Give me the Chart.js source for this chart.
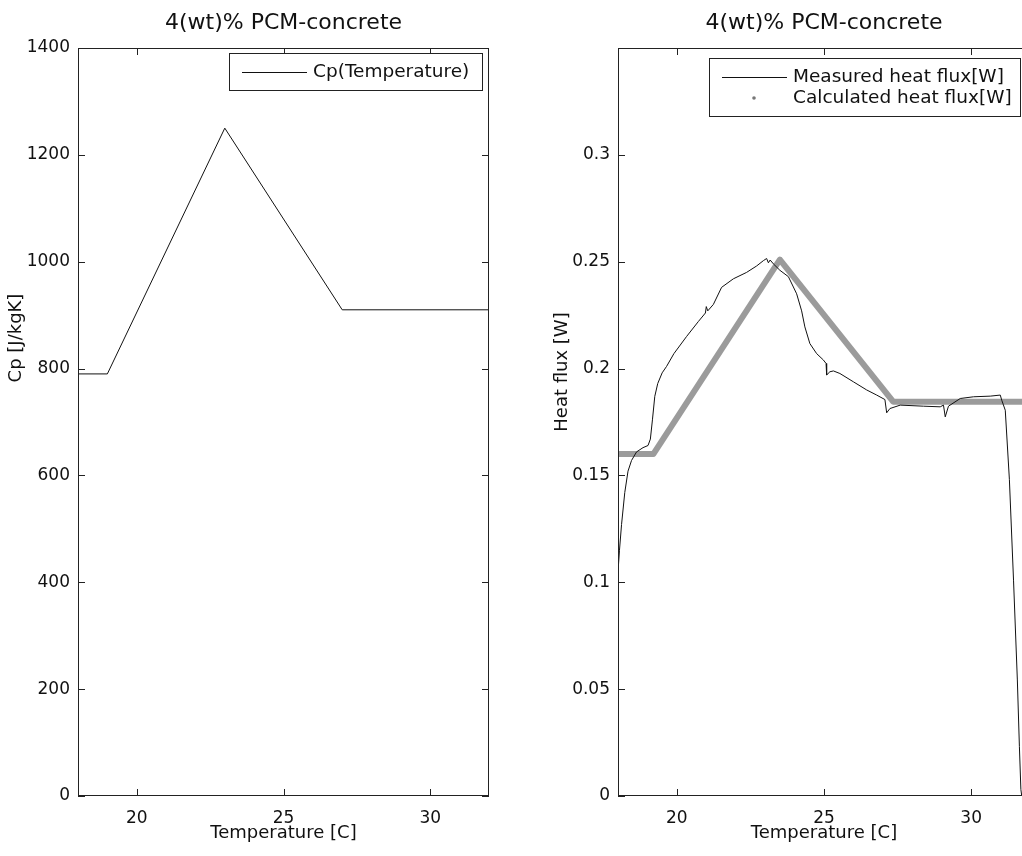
<!DOCTYPE html>
<html>
<head>
<meta charset="utf-8">
<title>4(wt)% PCM-concrete</title>
<script src="https://cdn.jsdelivr.net/npm/chart.js@4.4.1/dist/chart.umd.min.js"></script>
<style>
  html, body { margin: 0; padding: 0; background: #fff; overflow: hidden; width: 1022px; height: 856px; }
  .panel { position: absolute; top: 0; height: 856px; }
  #left { left: 0; width: 500px; }
  #right { left: 520px; width: 520px; }
  canvas { display: block; }
</style>
</head>
<body>
<div class="panel" id="left"><canvas id="cpChart" width="500" height="856"></canvas></div>
<div class="panel" id="right"><canvas id="fluxChart" width="520" height="856"></canvas></div>
<script>
// tick labels
const tempTicks = [20, 25, 30];
const cpTicks = [0, 200, 400, 600, 800, 1000, 1200, 1400];
const fluxTicks = [0, 0.05, 0.1, 0.15, 0.2, 0.25, 0.3];

// left panel: Cp(T)
const cpTemp = [18, 19, 23, 27, 32];
const cpValue = [790, 790, 1250, 910, 910];

// right panel: measured heat flux
const measTemp = [
  18.0, 18.05, 18.12, 18.23, 18.34, 18.46, 18.63, 18.85, 19.02, 19.1,
  19.17, 19.25, 19.35, 19.5, 19.65, 19.9, 20.33, 20.73, 20.97, 21.0,
  21.05, 21.24, 21.52, 21.92, 22.37, 22.71, 22.94, 23.05, 23.11, 23.17,
  23.28, 23.5, 23.79, 24.07, 24.24, 24.35, 24.52, 24.75, 24.98, 25.07,
  25.09, 25.2, 25.32, 25.54, 26.0, 26.45, 26.79, 27.07, 27.13, 27.24,
  27.59, 28.38, 28.95, 29.06, 29.12, 29.23, 29.63, 30.08, 30.65, 30.99,
  31.04, 31.16, 31.3, 31.44, 31.57, 31.64, 31.69, 31.72
];
const measFlux = [
  0.105, 0.115, 0.127, 0.142, 0.152, 0.157, 0.161, 0.163, 0.164, 0.167,
  0.176, 0.187, 0.193, 0.198, 0.201, 0.207, 0.215, 0.222, 0.226, 0.229,
  0.227, 0.230, 0.238, 0.242, 0.245, 0.248, 0.2505, 0.2515, 0.2495, 0.2508,
  0.249, 0.246, 0.243, 0.235, 0.227, 0.2195, 0.2117, 0.207, 0.204, 0.2024,
  0.197, 0.1985, 0.1989, 0.1977, 0.1938, 0.19, 0.1876, 0.1855, 0.1793, 0.1813,
  0.1829, 0.1824, 0.1821, 0.1829, 0.1774, 0.1824, 0.186, 0.1868, 0.1871, 0.1876,
  0.1852, 0.1805, 0.148, 0.101, 0.0543, 0.0231, 0.003, 0.0
];

// right panel: calculated heat flux
const calcTemp = [18, 19.2, 23.5, 27.35, 32];
const calcFlux = [0.16, 0.16, 0.251, 0.1845, 0.1845];

Chart.defaults.font.family = '"DejaVu Sans", sans-serif';
Chart.defaults.color = '#111';

const pts = (xs, ys) => xs.map((x, i) => ({ x: x, y: ys[i] }));

// matlab style box with inward ticks on all four sides
const frameTicks = {
  id: 'frameTicks',
  afterDatasetsDraw(chart) {
    const { ctx, chartArea: a, scales: { x, y } } = chart;
    const len = 7;
    ctx.save();
    ctx.strokeStyle = '#222';
    ctx.lineWidth = 1;
    ctx.strokeRect(Math.round(a.left) + 0.5, Math.round(a.top) + 0.5, Math.round(a.width) - 1, Math.round(a.height) - 1);
    ctx.beginPath();
    x.ticks.forEach(t => {
      const px = Math.round(x.getPixelForValue(t.value)) + 0.5;
      ctx.moveTo(px, a.bottom); ctx.lineTo(px, a.bottom - len);
      ctx.moveTo(px, a.top); ctx.lineTo(px, a.top + len);
    });
    y.ticks.forEach(t => {
      const py = Math.round(y.getPixelForValue(t.value)) + 0.5;
      ctx.moveTo(a.left, py); ctx.lineTo(a.left + len, py);
      ctx.moveTo(a.right, py); ctx.lineTo(a.right - len, py);
    });
    ctx.stroke();
    ctx.restore();
  }
};

// boxed legend in the top right corner of the plot area
const boxLegend = {
  id: 'boxLegend',
  afterDraw(chart, args, opts) {
    const { ctx, chartArea: a } = chart;
    const items = chart.data.datasets;
    const rowH = 21;
    const w = opts.width;
    const h = items.length * rowH + 16;
    const left = Math.round(a.right - opts.right - w);
    const top = Math.round(a.top + opts.top);
    ctx.save();
    ctx.fillStyle = '#fff';
    ctx.fillRect(left, top, w, h);
    ctx.strokeStyle = '#222';
    ctx.lineWidth = 1;
    ctx.strokeRect(left + 0.5, top + 0.5, w, h);
    ctx.font = '18.5px "DejaVu Sans"';
    ctx.textBaseline = 'middle';
    items.forEach((ds, i) => {
      const cy = Math.round(top + 8 + rowH * i + rowH / 2);
      if (ds.legendMark === 'dot') {
        ctx.fillStyle = '#777';
        ctx.beginPath();
        ctx.arc(left + 45, cy, 1.8, 0, Math.PI * 2);
        ctx.fill();
      } else {
        ctx.strokeStyle = '#111';
        ctx.beginPath();
        ctx.moveTo(left + 13, cy + 0.5);
        ctx.lineTo(left + 78, cy + 0.5);
        ctx.stroke();
      }
      ctx.fillStyle = '#111';
      ctx.fillText(ds.label, left + 84, cy);
    });
    ctx.restore();
  }
};

// rotated y label, placed like the matlab one
const yLabel = {
  id: 'yLabel',
  afterDraw(chart, args, opts) {
    const ctx = chart.ctx;
    ctx.save();
    ctx.translate(opts.x, opts.y);
    ctx.rotate(-Math.PI / 2);
    ctx.font = '18px "DejaVu Sans"';
    ctx.fillStyle = '#111';
    ctx.textAlign = 'center';
    ctx.textBaseline = 'middle';
    ctx.fillText(opts.text, 0, 0);
    ctx.restore();
  }
};

function makeOptions(cfg) {
  return {
    responsive: false,
    animation: false,
    layout: { padding: { left: 0, right: cfg.padRight, top: 0, bottom: 0 } },
    plugins: {
      legend: { display: false },
      tooltip: { enabled: false },
      title: {
        display: true,
        text: '4(wt)% PCM-concrete',
        fullSize: false,
        font: { size: 22, weight: 'normal' },
        color: '#111',
        padding: { top: 10, bottom: 11.6 }
      },
      boxLegend: cfg.legend,
      yLabel: cfg.yLabel
    },
    scales: {
      x: {
        type: 'linear',
        min: 18,
        max: 32,
        afterBuildTicks: s => { s.ticks = tempTicks.map(v => ({ value: v })); },
        afterFit: s => { s.height = 60; },
        grid: { display: false, drawTicks: false },
        border: { display: false },
        ticks: { padding: 12, font: { size: 17 }, callback: v => String(v) },
        title: { display: true, text: 'Temperature [C]', font: { size: 18 }, padding: { top: 0, bottom: 12 } }
      },
      y: {
        type: 'linear',
        min: cfg.yMin,
        max: cfg.yMax,
        afterBuildTicks: s => { s.ticks = cfg.yTicks.map(v => ({ value: v })); },
        afterFit: s => { s.width = cfg.yWidth; },
        grid: { display: false, drawTicks: false },
        border: { display: false },
        ticks: { padding: 8, font: { size: 17 }, callback: v => String(v) }
      }
    }
  };
}

new Chart(document.getElementById('cpChart'), {
  type: 'scatter',
  data: {
    datasets: [{
      label: 'Cp(Temperature)',
      data: pts(cpTemp, cpValue),
      showLine: true,
      borderColor: '#111',
      borderWidth: 1,
      pointRadius: 0,
      clip: 0
    }]
  },
  options: makeOptions({
    padRight: 11,
    yWidth: 78,
    yMin: 0,
    yMax: 1400,
    yTicks: cpTicks,
    legend: { width: 253, right: 7, top: 5 },
    yLabel: { text: 'Cp [J/kgK]', x: 16, y: 338 }
  }),
  plugins: [frameTicks, boxLegend, yLabel]
});

new Chart(document.getElementById('fluxChart'), {
  type: 'scatter',
  data: {
    datasets: [{
      label: 'Measured heat flux[W]',
      data: pts(measTemp, measFlux),
      showLine: true,
      borderColor: '#111',
      borderWidth: 1,
      pointRadius: 0,
      clip: 0
    }, {
      label: 'Calculated heat flux[W]',
      legendMark: 'dot',
      data: pts(calcTemp, calcFlux),
      showLine: true,
      borderColor: 'rgba(130,130,130,0.8)',
      borderWidth: 6,
      borderJoinStyle: 'round',
      pointRadius: 0,
      clip: 0
    }]
  },
  options: makeOptions({
    padRight: 10,
    yWidth: 98,
    yMin: 0,
    yMax: 0.35,
    yTicks: fluxTicks,
    legend: { width: 311, right: 10, top: 10 },
    yLabel: { text: 'Heat flux [W]', x: 42, y: 372 }
  }),
  plugins: [frameTicks, boxLegend, yLabel]
});
</script>
</body>
</html>
